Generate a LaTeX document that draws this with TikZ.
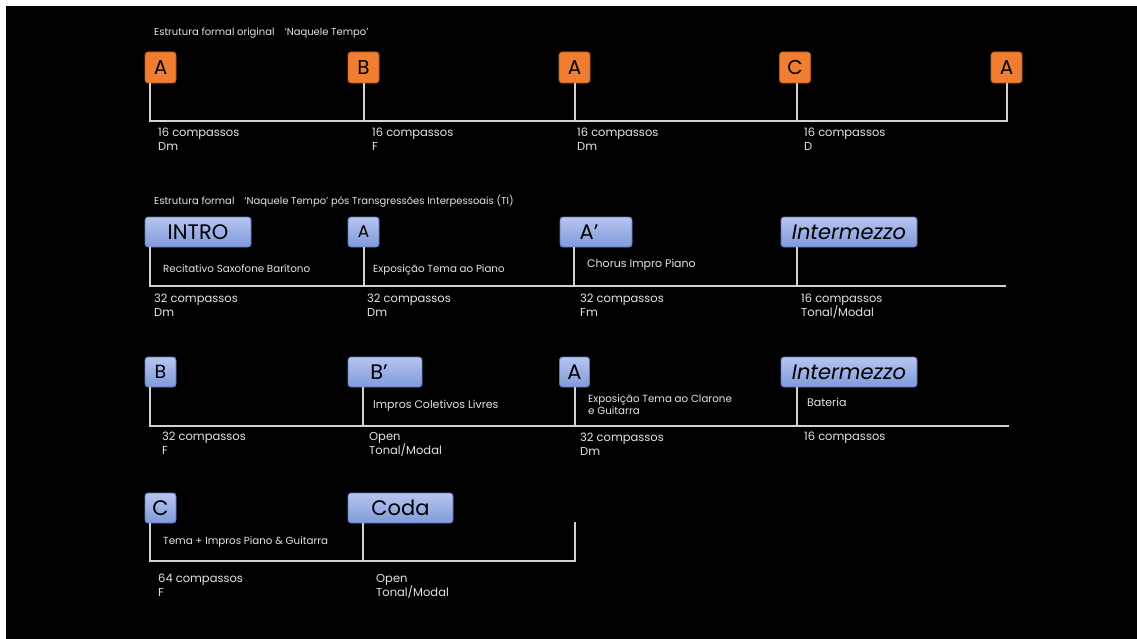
\documentclass[tikz,border=0pt]{standalone}
\usepackage{fontspec}
\setmainfont{Poppins}
\definecolor{lineg}{HTML}{D2D2D2}
\definecolor{txt}{HTML}{E4E4E4}
\definecolor{orangeF}{HTML}{F07E32}
\definecolor{orangeD}{HTML}{B85A1C}
\definecolor{blueT}{HTML}{B7C5EF}
\definecolor{blueB}{HTML}{809ADA}
\definecolor{blueD}{HTML}{5F78C4}
\begin{document}
\begin{tikzpicture}[x=1pt,y=-1pt,
  ln/.style={draw=lineg, line width=2pt},
  obox/.style={draw=orangeD, fill=orangeF, rounded corners=3pt, line width=0.8pt, minimum width=31pt, minimum height=31pt, inner sep=0pt, text=black, font=\fontsize{20}{20}\selectfont},
  bbox/.style={draw=blueD, top color=blueT, bottom color=blueB, rounded corners=3pt, line width=0.8pt, minimum height=30pt, inner sep=0pt, text=black, font=\fontsize{21}{21}\selectfont},
  lab/.style={text=txt, anchor=north west, inner sep=0pt, align=left, font=\fontsize{11.5}{14}\selectfont},
  sub/.style={text=txt, anchor=north west, inner sep=0pt, align=left, font=\fontsize{10.3}{12.5}\selectfont},
  ttl/.style={text=txt, anchor=north west, inner sep=0pt, font=\fontsize{10}{11}\selectfont}
]
\fill[white] (0,0) rectangle (1137,639);
\fill[black] (6,6) rectangle (1137,639);

% ---------- Row 1 ----------
\node[ttl] (t1) at (154,28) {Estrutura formal original\quad ‘Naquele Tempo’};
\node[obox] (o1) at (160.5,67.5) {A};
\node[obox] (o2) at (363.5,67.5) {B};
\node[obox] (o3) at (574.5,67.5) {A};
\node[obox] (o4) at (795,67.5) {C};
\node[obox] (o5) at (1006.5,67.5) {A};
\coordinate (r1e) at (1006.5,121);
\draw[ln] ([xshift=5pt]o1.south west) |- (r1e) -- (o5.south);
\draw[ln] (o2.south) -- (o2.south |- r1e);
\draw[ln] (o3.south) -- (o3.south |- r1e);
\draw[ln] ([xshift=2pt]o4.south) -- ([xshift=2pt]o4.south |- r1e);
\node[lab] (l11) at (158,128) {16 compassos\\Dm};
\node[lab] (l12) at (372,128) {16 compassos\\F};
\node[lab] (l13) at (577,128) {16 compassos\\Dm};
\node[lab] (l14) at (804,128) {16 compassos\\D};

% ---------- Row 2 ----------
\node[ttl] (t2) at (154,195) {Estrutura formal\quad ‘Naquele Tempo’ pós Transgressões Interpessoais (TI)};
\node[bbox, minimum width=106pt] (intro) at (198,232) {INTRO};
\node[bbox, minimum width=31pt, font=\fontsize{17}{17}\selectfont] (a2) at (363.5,232) {A};
\node[bbox, minimum width=72pt] (ap) at (596,232) {A’\hspace*{14pt}};
\node[bbox, minimum width=136pt, font=\fontsize{21}{21}\selectfont\itshape] (im1) at (849,232) {Intermezzo};
\coordinate (r2e) at (1006,286);
\draw[ln] ([xshift=5pt]intro.south west) |- (r2e);
\draw[ln] (a2.south) -- (a2.south |- r2e);
\draw[ln] ([xshift=14pt]ap.south west) -- ([xshift=14pt]ap.south west |- r2e);
\draw[ln] ([xshift=16pt]im1.south west) -- ([xshift=16pt]im1.south west |- r2e);
\node[sub] (s21) at (163,264) {Recitativo Saxofone Barítono};
\node[sub] (s22) at (373,264) {Exposição Tema ao Piano};
\node[sub, font=\fontsize{11}{13}\selectfont] (s23) at (587,259) {Chorus Impro Piano};
\node[lab] (l21) at (154,294) {32 compassos\\Dm};
\node[lab] (l22) at (367,294) {32 compassos\\Dm};
\node[lab] (l23) at (580,294) {32 compassos\\Fm};
\node[lab] (l24) at (801,294) {16 compassos\\Tonal/Modal};

% ---------- Row 3 ----------
\node[bbox, minimum width=31pt, font=\fontsize{19}{19}\selectfont] (b3) at (160.5,372) {B};
\node[bbox, minimum width=74pt] (bp) at (385,372) {B’\hspace*{12pt}};
\node[bbox, minimum width=30pt] (a3) at (574.5,372) {A};
\node[bbox, minimum width=136pt, font=\fontsize{21}{21}\selectfont\itshape] (im2) at (849,372) {Intermezzo};
\coordinate (r3e) at (1009,426);
\draw[ln] ([xshift=5pt]b3.south west) |- (r3e);
\draw[ln] ([xshift=15pt]bp.south west) -- ([xshift=15pt]bp.south west |- r3e);
\draw[ln] (a3.south) -- (a3.south |- r3e);
\draw[ln] ([xshift=16pt]im2.south west) -- ([xshift=16pt]im2.south west |- r3e);
\node[sub, font=\fontsize{11}{13}\selectfont] (s31) at (373,400) {Impros Coletivos Livres};
\node[sub] (s32) at (588,394) {Exposição Tema ao Clarone\\e Guitarra};
\node[sub, font=\fontsize{11}{13}\selectfont] (s33) at (807,398) {Bateria};
\node[lab] (l31) at (162,432) {32 compassos\\F};
\node[lab] (l32) at (369,432) {Open\\Tonal/Modal};
\node[lab] (l33) at (580,433) {32 compassos\\Dm};
\node[lab] (l34) at (804,432) {16 compassos};

% ---------- Row 4 ----------
\node[bbox, minimum width=31pt] (c4) at (160.5,508) {C};
\node[bbox, minimum width=105pt] (coda) at (400.5,508) {Coda};
\coordinate (r4e) at (575,561);
\coordinate (r4t) at (575,522);
\draw[ln] ([xshift=5pt]c4.south west) |- (r4e) -- (r4t);
\draw[ln] ([xshift=15pt]coda.south west) -- ([xshift=15pt]coda.south west |- r4e);
\node[sub] (s41) at (163,536) {Tema + Impros Piano \& Guitarra};
\node[lab] (l41) at (158,574) {64 compassos\\F};
\node[lab] (l42) at (376,574) {Open\\Tonal/Modal};
\end{tikzpicture}
\end{document}
